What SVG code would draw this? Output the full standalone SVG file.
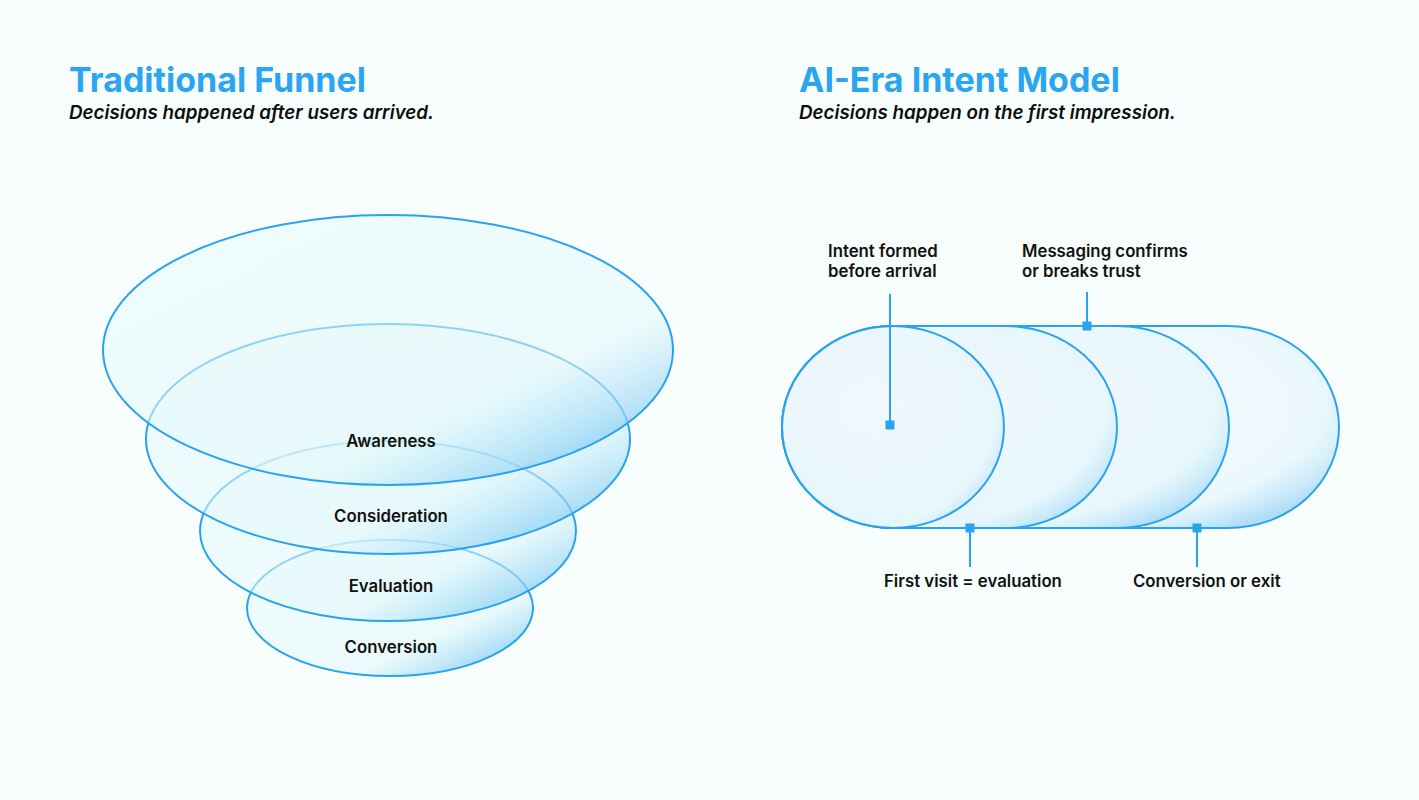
<svg xmlns="http://www.w3.org/2000/svg" width="1419" height="800" viewBox="0 0 1419 800">
<defs>
<style>
.t{font-family:Inter,"Liberation Sans",sans-serif;font-weight:700;font-size:34px;fill:#2aa5f2}
.s{font-family:Inter,"Liberation Sans",sans-serif;font-weight:600;font-style:italic;font-size:18.8px;fill:#0d0d0d}
.l{font-family:Inter,"Liberation Sans",sans-serif;font-weight:600;font-size:16.8px;fill:#111}
.sh{stroke:#2aa3ef;stroke-width:2;fill:url(#g)}
.ln{stroke:#2aa3ef;stroke-width:2;fill:none}
.m{fill:#2aa3ef}
</style>
<linearGradient id="g" x1="0" y1="0" x2="1" y2="1">
<stop offset="0" stop-color="#e9fbfb" stop-opacity="0.55"/>
<stop offset="0.68" stop-color="#e2f8fb" stop-opacity="0.55"/>
<stop offset="1" stop-color="#40aef0" stop-opacity="0.85"/>
</linearGradient>
<radialGradient id="gr" cx="0.35" cy="0.4" r="0.75">
<stop offset="0" stop-color="#f2f8fd" stop-opacity="0.6"/>
<stop offset="0.82" stop-color="#e4f6fc" stop-opacity="0.6"/>
<stop offset="1" stop-color="#9ed6f6" stop-opacity="0.8"/>
</radialGradient>
</defs>
<rect width="1419" height="800" fill="#f8fdfd"/>
<text class="t" x="69" y="92">Traditional Funnel</text>
<text class="s" x="69" y="119">Decisions happened after users arrived.</text>
<text class="t" x="799" y="92">AI-Era Intent Model</text>
<text class="s" x="799" y="119">Decisions happen on the first impression.</text>
<g id="conversion"><ellipse class="sh" cx="390" cy="608" rx="143" ry="68"/></g>
<g id="evaluation"><ellipse class="sh" cx="388" cy="531" rx="188" ry="90"/></g>
<g id="consideration"><ellipse class="sh" cx="388" cy="439" rx="242" ry="115"/></g>
<g id="awareness"><ellipse class="sh" cx="388" cy="350" rx="285" ry="135"/></g>
<text class="l" x="391" y="447" text-anchor="middle">Awareness</text>
<text class="l" x="391" y="522" text-anchor="middle">Consideration</text>
<text class="l" x="391" y="592" text-anchor="middle">Evaluation</text>
<text class="l" x="391" y="653" text-anchor="middle">Conversion</text>
<g id="stage4"><path class="sh" style="fill:url(#gr)" d="M893 326 H1228 A111 101 0 0 1 1228 528 H893 A111 101 0 0 1 893 326 Z"/></g>
<g id="stage3"><path class="sh" style="fill:url(#gr)" d="M893 326 H1118 A111 101 0 0 1 1118 528 H893 A111 101 0 0 1 893 326 Z"/></g>
<g id="stage2"><path class="sh" style="fill:url(#gr)" d="M893 326 H1006 A111 101 0 0 1 1006 528 H893 A111 101 0 0 1 893 326 Z"/></g>
<g id="stage1"><ellipse class="sh" style="fill:url(#gr)" cx="893" cy="427" rx="111" ry="101"/></g>
<g id="connectors">
<line class="ln" x1="890" y1="294" x2="890" y2="425"/>
<rect class="m" x="885.500" y="420.500" width="9" height="9"/>
<line class="ln" x1="1087" y1="292" x2="1087" y2="326"/>
<rect class="m" x="1082.500" y="321.500" width="9" height="9"/>
<line class="ln" x1="970" y1="528" x2="970" y2="567"/>
<rect class="m" x="965.500" y="523.500" width="9" height="9"/>
<line class="ln" x1="1197" y1="528" x2="1197" y2="567"/>
<rect class="m" x="1192.500" y="523.500" width="9" height="9"/>
</g>
<text class="l" x="828" y="257">Intent formed</text>
<text class="l" x="828" y="277">before arrival</text>
<text class="l" x="1022" y="257">Messaging confirms</text>
<text class="l" x="1022" y="277">or breaks trust</text>
<text class="l" x="884" y="587">First visit = evaluation</text>
<text class="l" x="1133" y="587">Conversion or exit</text>
</svg>
